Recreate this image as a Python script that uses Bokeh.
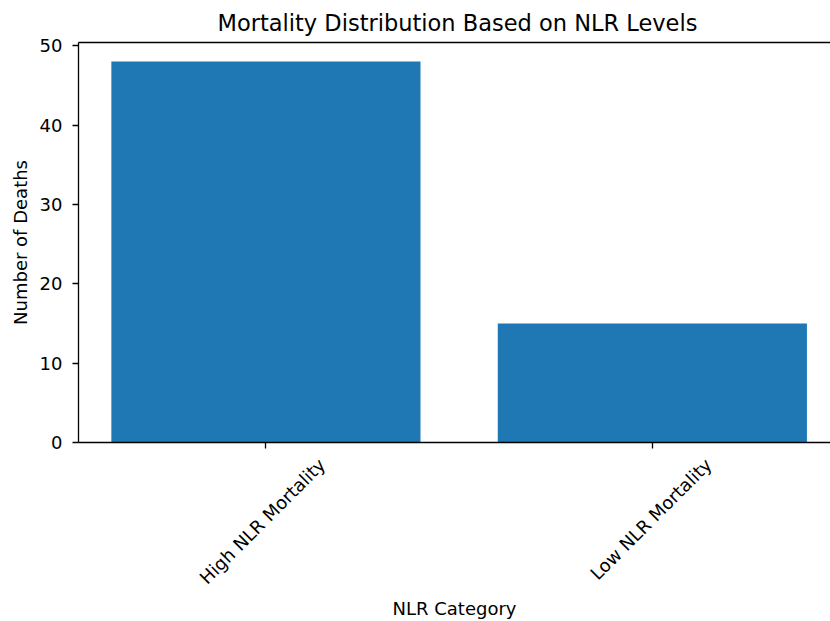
import math
from bokeh.plotting import figure
from bokeh.models import (ColumnDataSource, Range1d, FixedTicker, LinearAxis)
from bokeh.embed import file_html
from bokeh.resources import INLINE

categories = ["High NLR Mortality", "Low NLR Mortality"]
deaths = [48, 15]
y_ticks = [0, 10, 20, 30, 40, 50]

FONT = "DejaVu Sans"
BAR = "#1f77b4"

X0, X1 = -0.485, 1.461
LABEL_SHIFT = 0.145  # rotated labels are centred on their tick (matplotlib style)

positions = list(range(len(categories)))
src = ColumnDataSource(dict(x=positions, top=deaths))

p = figure(width=830, height=621, output_backend="svg", toolbar_location=None,
           x_range=Range1d(X0, X1), y_range=Range1d(0, 50.4),
           min_border_left=78, min_border_right=0, min_border_top=42,
           min_border_bottom=178, background_fill_color="white",
           border_fill_color="white", outline_line_color=None)
p.extra_x_ranges = {"lab": Range1d(X0 - LABEL_SHIFT, X1 - LABEL_SHIFT)}

p.vbar(x="x", top="top", width=0.8, source=src, fill_color=BAR,
       line_color=None)

p.xgrid.visible = False
p.ygrid.visible = False

# title
p.title.text = "Mortality Distribution Based on NLR Levels"
p.title.text_font = FONT
p.title.text_font_size = "22.5px"
p.title.text_font_style = "normal"
p.title.text_color = "black"
p.title.align = "left"
p.title.offset = 139
p.title.standoff = 13

# x axis: line + ticks only
xa = p.xaxis[0]
xa.ticker = FixedTicker(ticks=positions)
xa.axis_label = None
xa.major_label_text_font_size = "1px"
xa.major_label_text_color = None
xa.major_label_standoff = 0
xa.major_tick_out = 6
xa.major_tick_in = 0
xa.minor_tick_out = 0
xa.minor_tick_in = 0
xa.axis_line_color = "black"
xa.axis_line_width = 1.3
xa.major_tick_line_color = "black"
xa.major_tick_line_width = 1.3

# x axis: rotated category labels + axis title
xl = LinearAxis(x_range_name="lab", ticker=FixedTicker(ticks=positions),
                major_label_overrides={i: c for i, c in zip(positions, categories)},
                major_label_orientation=math.pi / 4,
                major_label_text_font=FONT, major_label_text_font_size="18px",
                major_label_text_color="black", major_label_standoff=13,
                major_tick_out=0, major_tick_in=0, minor_tick_out=0,
                minor_tick_in=0, axis_line_color=None,
                major_tick_line_color=None, minor_tick_line_color=None,
                axis_label="NLR Category", axis_label_text_font=FONT,
                axis_label_text_font_size="18px",
                axis_label_text_font_style="normal",
                axis_label_text_color="black", axis_label_standoff=-1)
p.add_layout(xl, "below")

# y axis
ya = p.yaxis[0]
ya.ticker = FixedTicker(ticks=y_ticks)
ya.major_label_text_font = FONT
ya.major_label_text_font_size = "18px"
ya.major_label_text_color = "black"
ya.major_label_standoff = 10
ya.major_tick_out = 6
ya.major_tick_in = 0
ya.minor_tick_out = 0
ya.minor_tick_in = 0
ya.axis_line_color = "black"
ya.axis_line_width = 1.3
ya.major_tick_line_color = "black"
ya.major_tick_line_width = 1.3
ya.axis_label = "Number of Deaths"
ya.axis_label_text_font = FONT
ya.axis_label_text_font_size = "18px"
ya.axis_label_text_font_style = "normal"
ya.axis_label_text_color = "black"
ya.axis_label_standoff = 6

# top spine
top = LinearAxis(ticker=FixedTicker(ticks=[]), axis_label=None,
                 major_label_text_font_size="1px", major_label_text_color=None,
                 major_tick_out=0, major_tick_in=0, minor_tick_out=0,
                 minor_tick_in=0, major_label_standoff=0,
                 axis_line_color="black", axis_line_width=1.3)
p.add_layout(top, "above")

open("out.html", "w").write(file_html(p, INLINE))
